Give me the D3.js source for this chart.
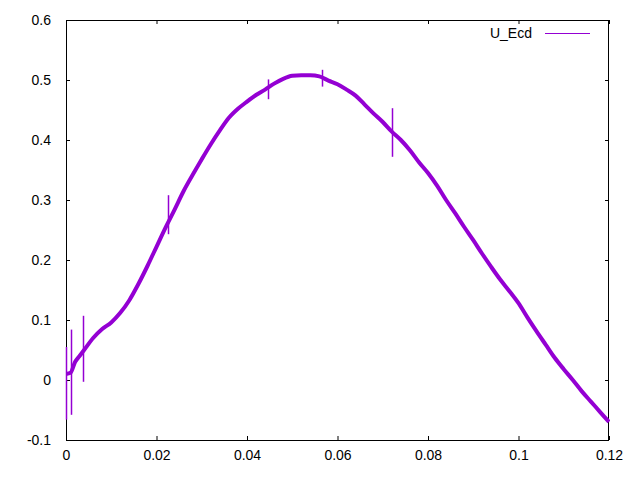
<!DOCTYPE html>
<html><head><meta charset="utf-8">
<script src="https://cdn.jsdelivr.net/npm/d3@7"></script>
<style>body{margin:0;background:#fff}svg{display:block}text{font-family:"Liberation Sans",Arial,sans-serif;font-size:14px;fill:#000}</style>
</head><body>
<script>
const seriesName = "U_Ecd";
const xValues = [0.000,0.001,0.002,0.003,0.004,0.006,0.008,0.010,0.012,0.014,0.016,0.018,0.020,0.022,0.024,0.026,0.028,0.030,0.032,0.034,0.036,0.038,0.040,0.042,0.044,0.046,0.048,0.050,0.052,0.054,0.056,0.058,0.060,0.062,0.064,0.066,0.068,0.070,0.072,0.074,0.076,0.078,0.080,0.082,0.084,0.086,0.088,0.090,0.092,0.094,0.096,0.098,0.100,0.102,0.104,0.106,0.108,0.110,0.112,0.114,0.116,0.118,0.120];
const yValues = [0.010,0.012,0.030,0.040,0.050,0.070,0.085,0.096,0.112,0.133,0.160,0.190,0.222,0.254,0.284,0.315,0.342,0.368,0.393,0.416,0.437,0.452,0.464,0.475,0.484,0.494,0.502,0.507,0.508,0.508,0.506,0.499,0.493,0.484,0.474,0.459,0.444,0.430,0.414,0.400,0.383,0.363,0.345,0.324,0.300,0.278,0.255,0.233,0.210,0.188,0.167,0.148,0.128,0.104,0.081,0.059,0.037,0.018,0.000,-0.019,-0.036,-0.053,-0.070];
// spikes (isolated vertical excursions in the data)
const spikeX    = [0.0000, 0.0011, 0.0037, 0.0225, 0.0446, 0.0566, 0.0720];
const spikeLow  = [-0.066, -0.058, -0.003, 0.243, 0.468, 0.489, 0.372];
const spikeHigh = [0.055, 0.084, 0.107, 0.308, 0.501, 0.517, 0.453];
const xTicks = [0, 0.02, 0.04, 0.06, 0.08, 0.1, 0.12];
const xTickLabels = ["0","0.02","0.04","0.06","0.08","0.1","0.12"];
const yTicks = [-0.1, 0, 0.1, 0.2, 0.3, 0.4, 0.5, 0.6];
const yTickLabels = ["-0.1","0","0.1","0.2","0.3","0.4","0.5","0.6"];

const W = 640, H = 480;
const L = 66, R = 609, T = 20, B = 440;
const color = "#9400d3";

const svg = d3.select("body").append("svg").attr("width", W).attr("height", H);
const x = d3.scaleLinear().domain([0, 0.12]).range([L, R]);
const y = d3.scaleLinear().domain([-0.1, 0.6]).range([B, T]);

svg.append("clipPath").attr("id","c").append("rect")
  .attr("x", L).attr("y", T).attr("width", R-L+1).attr("height", B-T);

// axes (gnuplot-style: inward ticks, mirrored)
const tl = 4;
const bottomAxis = d3.axisBottom(x).tickValues(xTicks).tickFormat((d,i)=>xTickLabels[i]).tickSizeInner(-tl).tickSizeOuter(0).tickPadding(10);
const topAxis = d3.axisTop(x).tickValues(xTicks).tickFormat("").tickSizeInner(-tl).tickSizeOuter(0);
const leftAxis = d3.axisLeft(y).tickValues(yTicks).tickFormat((d,i)=>yTickLabels[i]).tickSizeInner(-tl).tickSizeOuter(0).tickPadding(15);
const rightAxis = d3.axisRight(y).tickValues(yTicks).tickFormat("").tickSizeInner(-tl).tickSizeOuter(0);

function style(sel){
  sel.select(".domain").remove();
  sel.selectAll("line").attr("stroke","#000");
  sel.selectAll("text").attr("font-family",'"Liberation Sans",Arial,sans-serif').attr("font-size",14).attr("fill","#000");
}
svg.append("g").attr("transform",`translate(0,${B})`).call(bottomAxis).call(style);
svg.append("g").attr("transform",`translate(0,${T})`).call(topAxis).call(style);
svg.append("g").attr("transform",`translate(${L},0)`).call(leftAxis).call(style);
svg.append("g").attr("transform",`translate(${R},0)`).call(rightAxis).call(style);

svg.append("rect").attr("x",L+0.5).attr("y",T+0.5).attr("width",R-L-1).attr("height",B-T)
  .attr("fill","none").attr("stroke","#000").attr("stroke-width",1);

const g = svg.append("g").attr("clip-path","url(#c)");
const pts = xValues.map((v,i)=>[v, yValues[i]]);
g.append("path").datum(pts)
  .attr("d", d3.line().curve(d3.curveMonotoneX).x(d=>x(d[0])).y(d=>y(d[1])))
  .attr("fill","none").attr("stroke",color).attr("stroke-width",4).attr("stroke-linejoin","round");
svg.append("g").selectAll("line.spike").data(spikeX).join("line").attr("class","spike")
  .attr("x1",(d)=>Math.round(x(d))+0.5).attr("x2",(d)=>Math.round(x(d))+0.5)
  .attr("y1",(d,i)=>y(spikeLow[i])).attr("y2",(d,i)=>y(spikeHigh[i]))
  .attr("stroke",color).attr("stroke-width",1.5);

// legend
svg.append("text").attr("x",532).attr("y",38).attr("text-anchor","end").text(seriesName);
svg.append("line").attr("x1",545).attr("x2",590).attr("y1",33.5).attr("y2",33.5)
  .attr("stroke",color).attr("stroke-width",1);
</script>
</body></html>
